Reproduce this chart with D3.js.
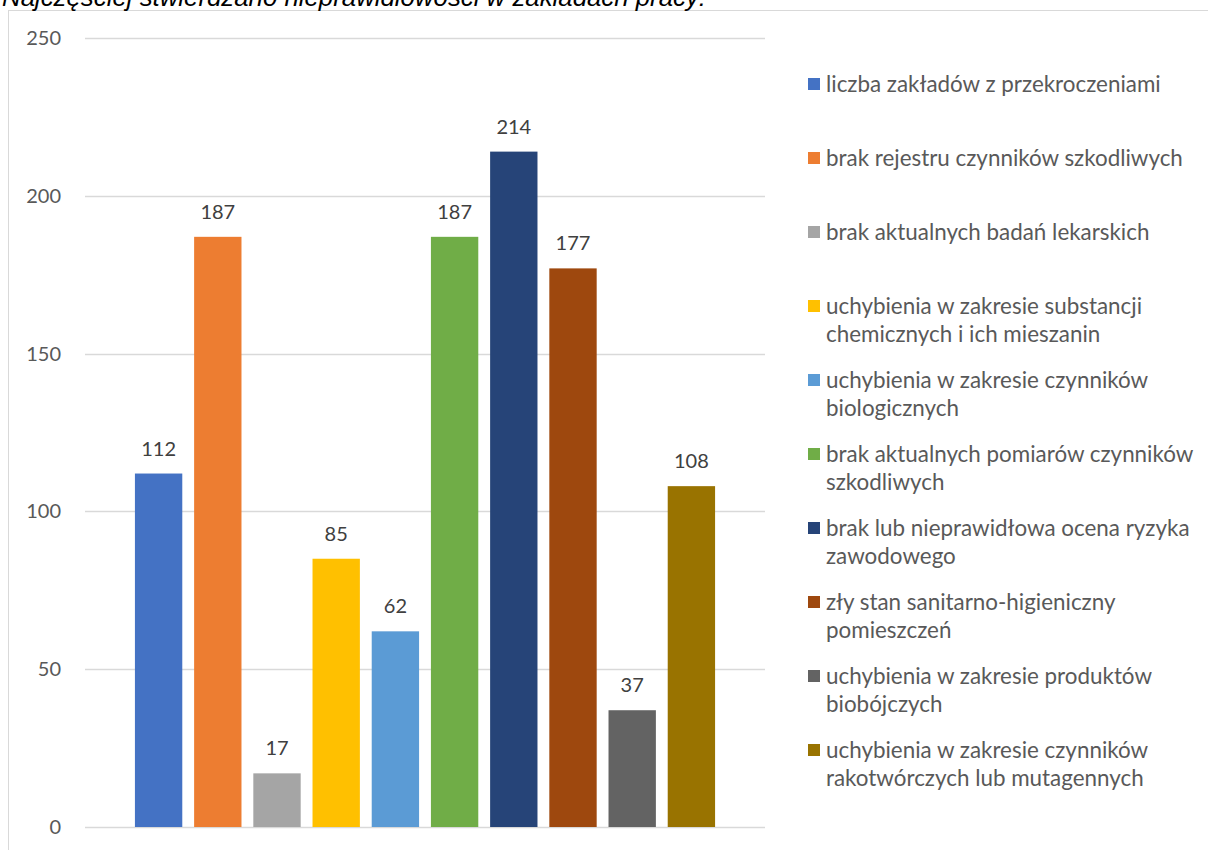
<!DOCTYPE html>
<html>
<head>
<meta charset="utf-8">
<script src="https://cdn.jsdelivr.net/npm/d3@7"></script>
<style>
  body { margin: 0; background: #fff; }
  svg { display: block; }
</style>
</head>
<body>
<div id="chart"></div>
<script>
var width = 1208,
    height = 850

var title = "Najczęściej stwierdzano nieprawidłowości w zakładach pracy:"

// nazwy serii (\n = zawinięcie w legendzie)
var seriesNames = [
  "liczba zakładów z przekroczeniami",
  "brak rejestru czynników szkodliwych",
  "brak aktualnych badań lekarskich",
  "uchybienia w zakresie substancji\nchemicznych i ich mieszanin",
  "uchybienia w zakresie czynników\nbiologicznych",
  "brak aktualnych pomiarów czynników\nszkodliwych",
  "brak lub nieprawidłowa ocena ryzyka\nzawodowego",
  "zły stan sanitarno-higieniczny\npomieszczeń",
  "uchybienia w zakresie produktów\nbiobójczych",
  "uchybienia w zakresie czynników\nrakotwórczych lub mutagennych"
]
var seriesValues = [112, 187, 17, 85, 62, 187, 214, 177, 37, 108]
var seriesColors = ["#4472C4", "#ED7D31", "#A5A5A5", "#FFC000", "#5B9BD5",
                    "#70AD47", "#264478", "#9E480E", "#636363", "#997300"]
var yTicks = [0, 50, 100, 150, 200, 250]

var font = "Lato, 'Open Sans', sans-serif"

var svg = d3.select("#chart")
  .append("svg")
    .attr("width", width)
    .attr("height", height)

// ramka wykresu (ucięta przez okno)
svg.append("rect")
  .attr("x", 8.5).attr("y", 10.5)
  .attr("width", 1400).attr("height", 1000)
  .attr("fill", "#fff")
  .attr("stroke", "#d9d9d9")

// tytuł ucięty u góry, tak jak w oryginale
svg.append("text")
  .attr("x", 2).attr("y", 6)
  .style("font-family", "'Liberation Sans', Arial, sans-serif")
  .style("font-style", "italic")
  .style("font-size", "25.8px")
  .attr("fill", "#000")
  .text(title)

var y = d3.scaleLinear().domain([0, 250]).range([827, 38])
var x = d3.scaleBand()
  .domain(d3.range(seriesValues.length))
  .range([129, 721])
  .paddingInner(0.2)
  .paddingOuter(0.1)

// siatka
svg.selectAll("line.grid")
  .data(yTicks)
  .enter()
  .append("line")
    .attr("x1", 85).attr("x2", 765)
    .attr("y1", function(d) { return Math.round(y(d)) + 0.5 })
    .attr("y2", function(d) { return Math.round(y(d)) + 0.5 })
    .attr("stroke", "#d9d9d9")
    .attr("stroke-width", 1.3)

svg.selectAll("text.tick")
  .data(yTicks)
  .enter()
  .append("text")
    .attr("x", 61)
    .attr("y", function(d) { return y(d) })
    .attr("dy", "0.35em")
    .attr("text-anchor", "end")
    .style("font-family", font)
    .style("font-size", "20px")
    .attr("fill", "#595959")
    .text(function(d) { return d })

// słupki
svg.selectAll("rect.bar")
  .data(seriesValues)
  .enter()
  .append("rect")
    .attr("x", function(d, i) { return x(i) })
    .attr("width", x.bandwidth())
    .attr("y", function(d) { return y(d) })
    .attr("height", function(d) { return y(0) - y(d) })
    .attr("fill", function(d, i) { return seriesColors[i] })

svg.selectAll("text.lbl")
  .data(seriesValues)
  .enter()
  .append("text")
    .attr("x", function(d, i) { return x(i) + x.bandwidth() / 2 })
    .attr("y", function(d) { return y(d) - 25 })
    .attr("dy", "0.35em")
    .attr("text-anchor", "middle")
    .style("font-family", font)
    .style("font-size", "20px")
    .attr("fill", "#404040")
    .text(function(d) { return d })

// legenda
var legend = svg.selectAll("g.leg")
  .data(seriesNames)
  .enter()
  .append("g")
    .attr("transform", function(d, i) { return "translate(808," + (84 + i * 74) + ")" })

legend.append("rect")
  .attr("x", 0).attr("y", -6)
  .attr("width", 12).attr("height", 12)
  .attr("fill", function(d, i) { return seriesColors[i] })

legend.each(function(d) {
  var t = d3.select(this).append("text")
    .style("font-family", font)
    .style("font-size", "22.4px")
    .attr("fill", "#595959")
  d.split("\n").forEach(function(line, j) {
    t.append("tspan")
      .attr("x", 18)
      .attr("y", j * 28)
      .attr("dy", "0.35em")
      .text(line)
  })
})
</script>
</body>
</html>
